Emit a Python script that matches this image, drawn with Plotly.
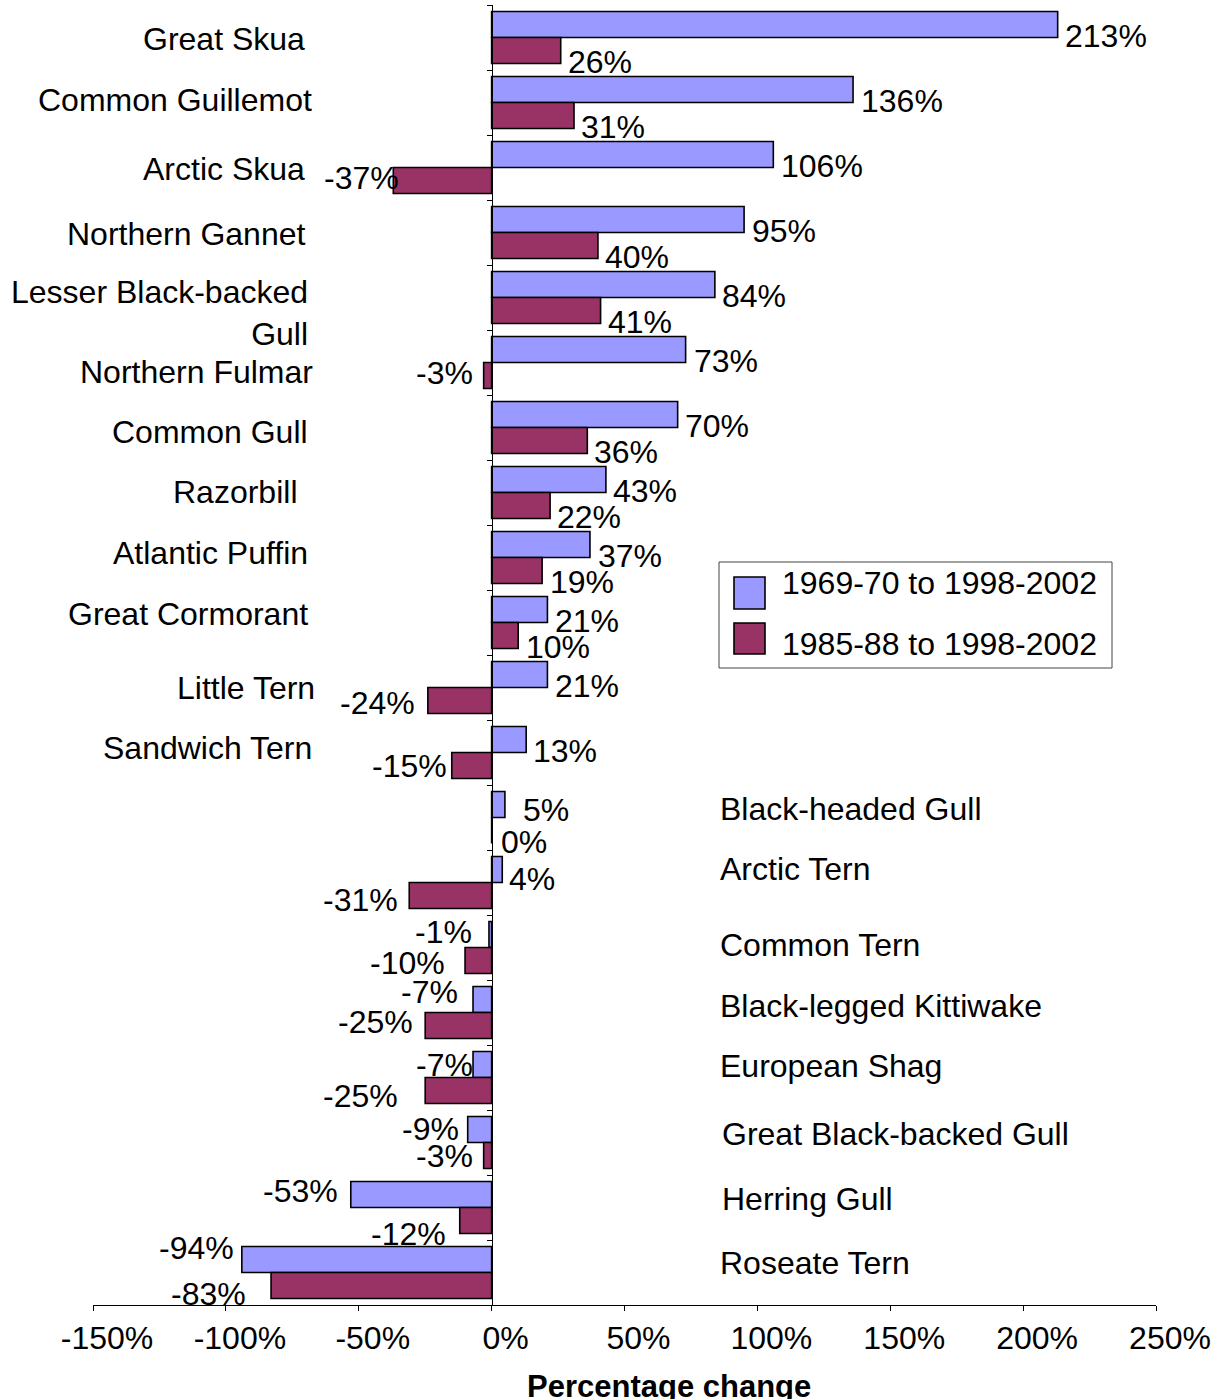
import plotly.graph_objects as go

# ---------------- data ----------------
categories = [
    "Great Skua", "Common Guillemot", "Arctic Skua", "Northern Gannet",
    "Lesser Black-backed Gull", "Northern Fulmar", "Common Gull", "Razorbill",
    "Atlantic Puffin", "Great Cormorant", "Little Tern", "Sandwich Tern",
    "Black-headed Gull", "Arctic Tern", "Common Tern", "Black-legged Kittiwake",
    "European Shag", "Great Black-backed Gull", "Herring Gull", "Roseate Tern",
]
display_labels = [
    "Great Skua", "Common Guillemot", "Arctic Skua", "Northern Gannet",
    "Lesser Black-backed<br>Gull", "Northern Fulmar", "Common Gull", "Razorbill",
    "Atlantic Puffin", "Great Cormorant", "Little Tern", "Sandwich Tern",
    "Black-headed Gull", "Arctic Tern", "Common Tern", "Black-legged Kittiwake",
    "European Shag", "Great Black-backed Gull", "Herring Gull", "Roseate Tern",
]
change_1969_2002 = [213, 136, 106, 95, 84, 73, 70, 43, 37, 21, 21, 13, 5, 4, -1, -7, -7, -9, -53, -94]
change_1985_2002 = [26, 31, -37, 40, 41, -3, 36, 22, 19, 10, -24, -15, 0, -31, -10, -25, -25, -3, -12, -83]
series_names = ["1969-70 to 1998-2002", "1985-88 to 1998-2002"]
x_tick_values = [-150, -100, -50, 0, 50, 100, 150, 200, 250]
x_tick_labels = ["-150%", "-100%", "-50%", "0%", "50%", "100%", "150%", "200%", "250%"]

# ---------------- layout / style ----------------
W, H = 1225, 1399
ML, MR, MT, MB = 93, 69, 5, 94
PW, PH = W - ML - MR, H - MT - MB
FONT = "Liberation Sans, Arial, sans-serif"
FS = 32
colors = ["#9999FF", "#993366"]
X_MIN, X_MAX = -150, 250

# value-label nudges in pixels (dx: gap from bar end, dy: down from bar centre)
label_dx = [
    [7, 8, 8, 8, 7, 8, 7, 7, 8, 8, 8, 7, 18, 7, -18, -16, -1, -10, -14, -9],
    [7, 7, 5, 7, 7, -12, 7, 7, 8, 8, -14, -6, 9, -12, -21, -13, -28, -12, -15, -26],
]
label_dy = [
    [11, 11, 11, 11, 11, 11, 11, 11, 11, 11, 11, 11, 5, 9, -3, -8, 0, -1, -4, -12],
    [11, 11, -3, 11, 11, -3, 11, 11, 11, 11, 2, 0, 11, 4, 2, -4, 5, 0, 13, 8],
]
# category-label placement (pixel edge, vertical nudge in px, down positive)
cat_label_edge = [305, 312, 305, 305, 308, 313, 308, 297, 308, 308, 315, 312,
                  720, 720, 720, 720, 720, 722, 722, 720]
cat_label_dy = [1, -3, 1, 1, -4, 9, 4, -1, -5, -9, 0, -5, -9, -14, -3, -7, -12, -9, -9, -10]
LINE_SP = 39


def paper_x(px):
    return (px - ML) / PW


def paper_y(py):
    return (H - MB - py) / PH


n = len(categories)
fig = go.Figure()
for name, vals, col in zip(series_names, [change_1969_2002, change_1985_2002], colors):
    fig.add_trace(go.Bar(
        y=categories, x=vals, orientation="h", name=name,
        marker=dict(color=col, line=dict(color="black", width=1.6)),
        showlegend=False, hoverinfo="x+y",
    ))

annotations = []
# value labels
for s, vals in enumerate([change_1969_2002, change_1985_2002]):
    off = -0.2 if s == 0 else 0.2
    for i, v in enumerate(vals):
        if v >= 0:
            annotations.append(dict(x=v, y=i + off, xref="x", yref="y", text=f"{v}%",
                                    showarrow=False, xanchor="left", yanchor="middle",
                                    xshift=label_dx[s][i] - 2, yshift=-label_dy[s][i]))
        else:
            annotations.append(dict(x=v, y=i + off, xref="x", yref="y", text=f"{v}%",
                                    showarrow=False, xanchor="right", yanchor="middle",
                                    xshift=label_dx[s][i] + 3, yshift=-label_dy[s][i]))

# category labels
for i, lab in enumerate(display_labels):
    nlines = lab.count("<br>") + 1
    ysh = -cat_label_dy[i] - (nlines - 1) * LINE_SP / 2
    edge = cat_label_edge[i]
    if edge < 492:
        annotations.append(dict(x=paper_x(edge + 2), y=i, xref="paper", yref="y", text=lab,
                                showarrow=False, xanchor="right", yanchor="middle",
                                align="right", yshift=ysh))
    else:
        annotations.append(dict(x=paper_x(edge - 2), y=i, xref="paper", yref="y", text=lab,
                                showarrow=False, xanchor="left", yanchor="middle",
                                align="left", yshift=ysh))

# axis title
annotations.append(dict(x=paper_x(669), y=paper_y(1386), xref="paper", yref="paper",
                        text="<b>Percentage change</b>", showarrow=False,
                        xanchor="center", yanchor="middle", font=dict(size=FS - 1)))

# custom legend
shapes = [
    dict(type="rect", xref="paper", yref="paper", x0=paper_x(719), x1=paper_x(1112),
         y0=paper_y(668), y1=paper_y(562), line=dict(color="#444444", width=1),
         fillcolor="white", layer="above"),
]
leg_squares = [(577, 609), (623, 654)]
leg_text_y = [583, 644]
for name, col, (y0, y1), ty in zip(series_names, colors, leg_squares, leg_text_y):
    shapes.append(dict(type="rect", xref="paper", yref="paper",
                       x0=paper_x(734), x1=paper_x(765), y0=paper_y(y1), y1=paper_y(y0),
                       line=dict(color="black", width=1.6), fillcolor=col, layer="above"))
    annotations.append(dict(x=paper_x(780), y=paper_y(ty), xref="paper", yref="paper",
                            text=name, showarrow=False, xanchor="left", yanchor="middle"))

fig.update_layout(
    width=W, height=H,
    margin=dict(l=ML, r=MR, t=MT, b=MB, pad=0),
    paper_bgcolor="white", plot_bgcolor="white",
    font=dict(family=FONT, size=FS, color="black"),
    barmode="group", bargap=0.2, bargroupgap=0,
    showlegend=False,
    annotations=annotations, shapes=shapes,
    xaxis=dict(range=[X_MIN, X_MAX], tickvals=x_tick_values, ticktext=x_tick_labels,
               showgrid=False, zeroline=False, showline=True, linecolor="black", linewidth=1,
               ticks="outside", ticklen=5, tickcolor="black", ticklabelshift=14,
               fixedrange=True),
    yaxis=dict(type="category", categoryorder="array", categoryarray=categories,
               range=[n - 0.5, -0.5], showticklabels=False, showgrid=False, zeroline=False,
               showline=True, linecolor="black", linewidth=1,
               ticks="outside", ticklen=5, tickcolor="black", tickson="boundaries",
               anchor="free", position=(0 - X_MIN) / (X_MAX - X_MIN), fixedrange=True),
)

fig.write_html("out.html", config={"displayModeBar": False},
               post_script="document.body.style.margin='0px';document.body.style.overflow='hidden';")
